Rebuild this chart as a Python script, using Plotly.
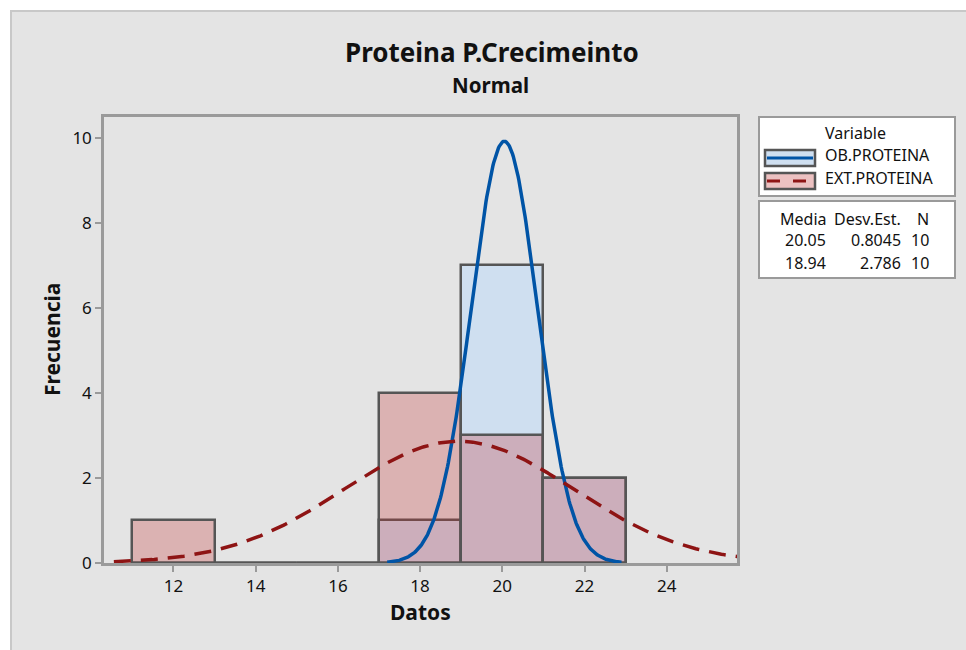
import numpy as np
import plotly.graph_objects as go

# ── Data ──────────────────────────────────────────────────────────────────────
bin_centers = [12, 14, 16, 18, 20, 22]          # bins of width 2: 11-13 ... 21-23
bin_width = 2
ob_counts = [0, 0, 0, 1, 7, 2]                  # OB.PROTEINA
ext_counts = [1, 0, 0, 4, 3, 2]                 # EXT.PROTEINA

variables = ['OB.PROTEINA', 'EXT.PROTEINA']
media = [20.05, 18.94]
desv_est = [0.8045, 2.786]
n_obs = [10, 10]
curve_start = [17.2, 10.55]
curve_end = [22.9, 26.0]

x_ticks = [12, 14, 16, 18, 20, 22, 24]
y_ticks = [0, 2, 4, 6, 8, 10]

# ── Styles ────────────────────────────────────────────────────────────────────
FONT = 'Noto Sans'
BLUE_FILL = 'rgb(207,223,240)'
RED_FILL = 'rgba(195,45,45,0.27)'
BLUE_LINE = '#0054a6'
RED_LINE = '#8e1414'
EDGE = '#555555'
FRAME = '#9a9a9a'
PANEL = '#e4e4e4'
TXT = '#111111'

# plot area in pixels: x 104..737, y 117..563
L, R, T, B = 104, 737, 117, 563
W, H = 966, 650


def px(x):
    return (x - L) / (R - L)


def py(y):
    return (B - y) / (B - T)


def normal_curve(mu, sd, n, x0, x1):
    xs = np.linspace(x0, x1, 300)
    ys = n * bin_width * np.exp(-0.5 * ((xs - mu) / sd) ** 2) / (sd * np.sqrt(2 * np.pi))
    return xs, ys


fig = go.Figure()

# ── Histogram bars ────────────────────────────────────────────────────────────
fig.add_trace(go.Bar(
    x=bin_centers, y=ob_counts, width=bin_width,
    marker=dict(color=BLUE_FILL, line=dict(color=EDGE, width=2.5)),
    name=variables[0], showlegend=False, hoverinfo='skip',
))
fig.add_trace(go.Bar(
    x=bin_centers, y=ext_counts, width=bin_width,
    marker=dict(color=RED_FILL, line=dict(color=EDGE, width=2.5)),
    name=variables[1], showlegend=False, hoverinfo='skip',
))

# ── Fitted normal curves ──────────────────────────────────────────────────────
xs, ys = normal_curve(media[0], desv_est[0], n_obs[0], curve_start[0], curve_end[0])
fig.add_trace(go.Scatter(
    x=xs, y=ys, mode='lines', showlegend=False, hoverinfo='skip',
    line=dict(color=BLUE_LINE, width=3.5),
))
xs, ys = normal_curve(media[1], desv_est[1], n_obs[1], curve_start[1], curve_end[1])
fig.add_trace(go.Scatter(
    x=xs, y=ys, mode='lines', showlegend=False, hoverinfo='skip',
    line=dict(color=RED_LINE, width=3.5, dash='17px,10px'),
))

# ── Background panel, legend and stats boxes ─────────────────────────────────
shapes = [
    dict(type='rect', xref='paper', yref='paper', layer='below',
         x0=px(11), x1=px(W + 20), y0=py(11), y1=py(H + 20),
         fillcolor=PANEL, line=dict(color='#c8c8c8', width=2)),
    dict(type='rect', xref='paper', yref='paper',
         x0=px(759), x1=px(955), y0=py(117), y1=py(196),
         fillcolor='white', line=dict(color=FRAME, width=2)),
    dict(type='rect', xref='paper', yref='paper',
         x0=px(759), x1=px(955), y0=py(201), y1=py(278),
         fillcolor='white', line=dict(color=FRAME, width=2)),
]
legend_rows = [158, 181]
legend_fills = [BLUE_FILL, 'rgb(236,193,193)']
legend_lines = [dict(color=BLUE_LINE, width=3), dict(color=RED_LINE, width=3, dash='13px,13px')]
for yc, fill, ln in zip(legend_rows, legend_fills, legend_lines):
    shapes.append(dict(type='rect', xref='paper', yref='paper',
                       x0=px(765), x1=px(815), y0=py(yc - 8), y1=py(yc + 8),
                       fillcolor=fill, line=dict(color=EDGE, width=2.5)))
    shapes.append(dict(type='line', xref='paper', yref='paper',
                       x0=px(767), x1=px(813), y0=py(yc), y1=py(yc), line=ln))

annotations = [
    dict(text='<b>Proteina P.Crecimeinto</b>', x=px(492), y=py(52),
         font=dict(size=26, color=TXT)),
    dict(text='<b>Normal</b>', x=px(490), y=py(85),
         font=dict(size=20.5, color=TXT)),
    dict(text='<b>Datos</b>', x=px(420), y=py(612),
         font=dict(size=21, color=TXT)),
    dict(text='<b>Frecuencia</b>', x=px(52), y=py(340), textangle=-90,
         font=dict(size=21, color=TXT)),
    dict(text='Variable', x=px(855), y=py(133), font=dict(size=16, color=TXT)),
]
for name, yc in zip(variables, legend_rows):
    annotations.append(dict(text=name, x=px(823), y=py(yc - 3), xanchor='left',
                            font=dict(size=16, color=TXT)))

stat_cols = [828, 903, 931]
header = ['Media', 'Desv.Est.', 'N']
for txt, xc in zip(header, stat_cols):
    annotations.append(dict(text=txt, x=px(xc), y=py(219), xanchor='right',
                            font=dict(size=16, color=TXT)))
for row, yc in zip(range(len(variables)), [240, 263]):
    vals = [f'{media[row]:.2f}', f'{desv_est[row]:g}', str(n_obs[row])]
    for txt, xc in zip(vals, stat_cols):
        annotations.append(dict(text=txt, x=px(xc), y=py(yc), xanchor='right',
                                font=dict(size=16, color=TXT)))

for a in annotations:
    a.update(xref='paper', yref='paper', showarrow=False)
    a.setdefault('xanchor', 'center')
    a.setdefault('yanchor', 'middle')

# ── Layout ────────────────────────────────────────────────────────────────────
axis_common = dict(
    showline=True, linecolor=FRAME, linewidth=2.5, mirror=True,
    ticks='outside', ticklen=6, tickwidth=2, tickcolor=FRAME,
    showgrid=False, zeroline=False,
    tickfont=dict(family=FONT, size=17, color=TXT),
)
fig.update_layout(
    width=W, height=H,
    margin=dict(l=L, r=W - R, t=T, b=H - B),
    paper_bgcolor='white', plot_bgcolor='white',
    barmode='overlay', bargap=0,
    font=dict(family=FONT),
    shapes=shapes, annotations=annotations,
    xaxis=dict(range=[10.31, 25.71], tickvals=x_ticks, **axis_common),
    yaxis=dict(range=[0, 10.49], tickvals=y_ticks, **axis_common),
)

fig.write_html('out.html', config={'displayModeBar': False},
               post_script="document.body.style.margin='0px';")
